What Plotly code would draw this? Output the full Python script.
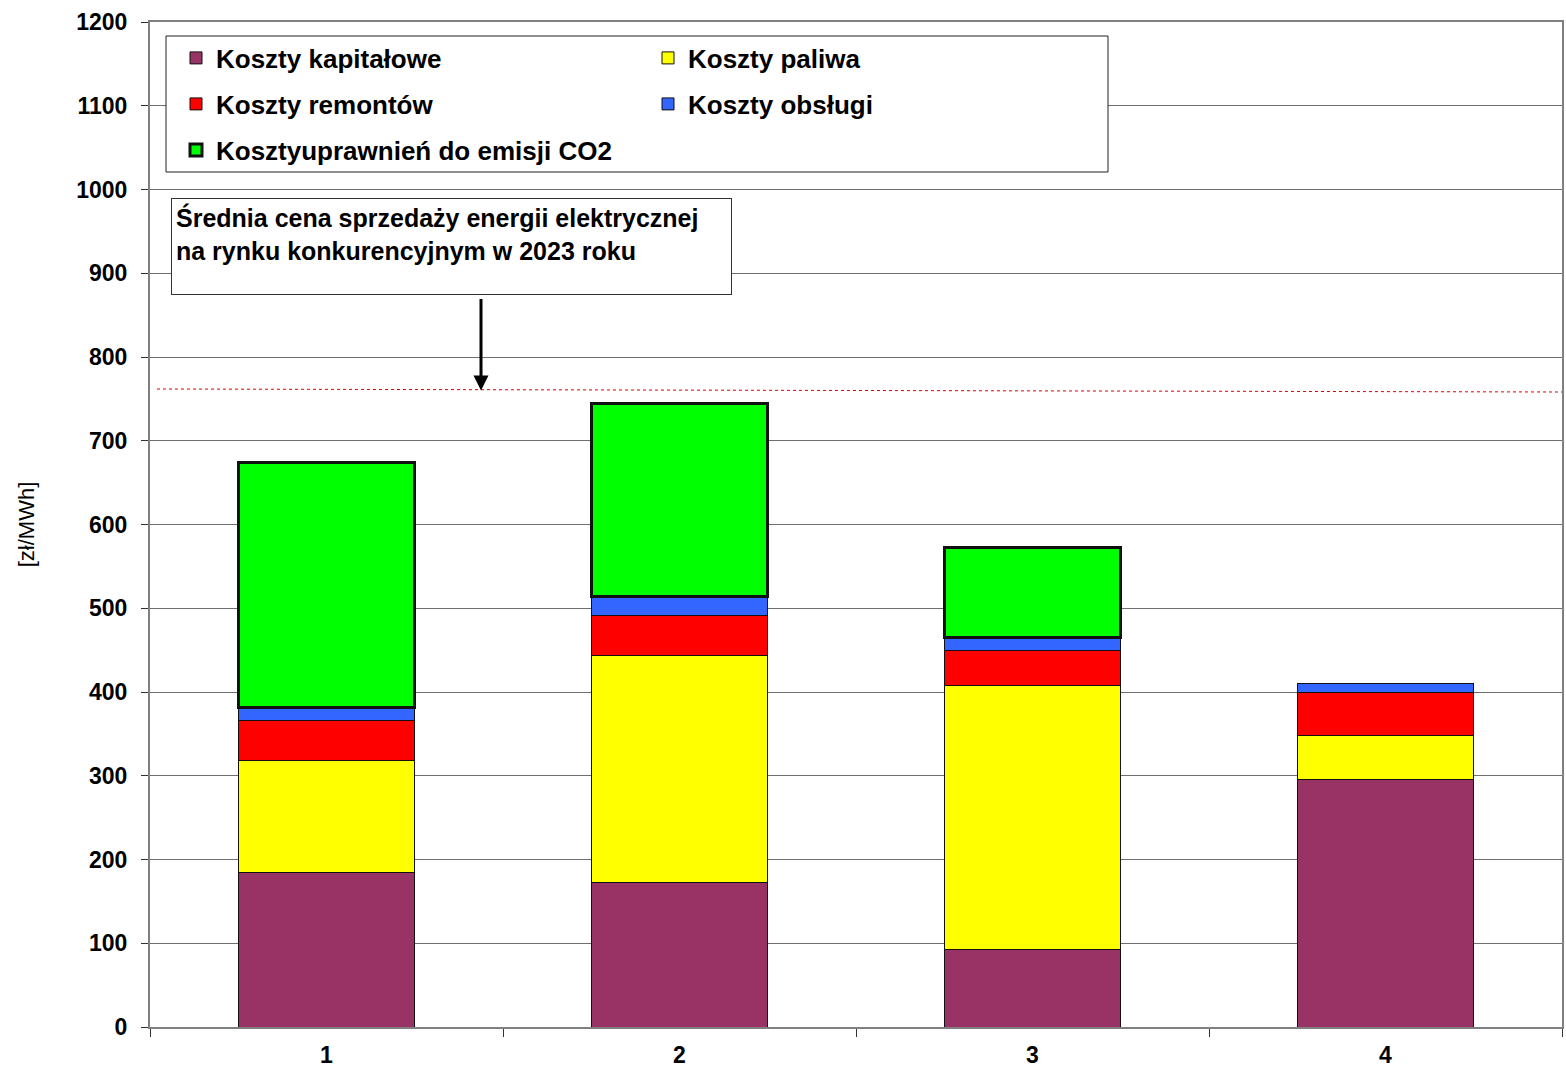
import plotly.graph_objects as go

categories = ["1", "2", "3", "4"]
koszty_kapitalowe = [184, 172, 93, 295]
koszty_paliwa = [134, 271, 315, 52.5]
koszty_remontow = [48, 48, 42, 52.5]
koszty_obslugi = [15, 23, 15.5, 9.6]
koszty_co2 = [293, 230.5, 107.5, None]
srednia_cena_start = 761.8
srednia_cena_end = 758.2

series = [
    ("Koszty kapitałowe", koszty_kapitalowe, "#993366", 1, "legend"),
    ("Koszty paliwa", koszty_paliwa, "#FFFF00", 1, "legend"),
    ("Koszty remontów", koszty_remontow, "#FF0000", 1, "legend2"),
    ("Koszty obsługi", koszty_obslugi, "#3366FF", 1, "legend2"),
    ("Kosztyuprawnień do emisji CO2", koszty_co2, "#00FF00", 3, "legend3"),
]

FONT = "Liberation Sans, Arial, sans-serif"

fig = go.Figure()
for name, vals, color, lw, leg in series:
    fig.add_trace(go.Bar(
        x=categories, y=vals, name=name,
        marker=dict(color=color, line=dict(color="#111111", width=lw)),
        legend=leg,
    ))

W, H = 1566, 1069
L, T = 150, 22
R = W - 1562
B = H - 1027
pw, ph = W - L - R, H - T - B

def px(xs):
    return (xs - L) / pw

def py(ys):
    return (H - B - ys) / ph

leg_font = dict(family=FONT, size=26, color="#000000", weight="bold")
common_leg = dict(orientation="h", xanchor="left", yanchor="middle",
                  bgcolor="rgba(0,0,0,0)", borderwidth=0, font=leg_font,
                  entrywidth=427, itemwidth=30, traceorder="normal")

fig.update_layout(
    width=W, height=H,
    margin=dict(l=L, r=R, t=T, b=B, autoexpand=False),
    paper_bgcolor="white", plot_bgcolor="white",
    barmode="stack", bargap=0.5,
    font=dict(family=FONT, color="#000000"),
    legend=dict(x=px(176), y=py(58), **common_leg),
    legend2=dict(x=px(176), y=py(104), **common_leg),
    legend3=dict(x=px(176), y=py(150), **common_leg),
    xaxis=dict(
        range=[-0.5, 3.5], tickson="boundaries", ticks="outside", ticklen=8,
        tickcolor="#333333", tickwidth=1, ticklabelstandoff=6,
        showline=True, linecolor="#808080", linewidth=2, mirror=True,
        showgrid=False, automargin=False,
        tickfont=dict(family=FONT, size=23, weight="bold", color="#000000"),
    ),
    yaxis=dict(
        range=[0, 1200], dtick=100, ticks="outside", ticklen=7,
        tickcolor="#333333", tickwidth=1, ticklabelstandoff=9,
        showline=True, linecolor="#808080", linewidth=2, mirror=True,
        showgrid=True, gridcolor="#6e6e6e", gridwidth=1,
        zeroline=False, automargin=False,
        tickfont=dict(family=FONT, size=23, weight="bold", color="#000000"),
        title=dict(text="[zł/MWh]", standoff=36,
                   font=dict(family=FONT, size=22, color="#000000")),
    ),
    showlegend=True,
)

# legend frame
fig.add_shape(type="rect", xref="paper", yref="paper",
              x0=px(166), x1=px(1108), y0=py(172), y1=py(36),
              fillcolor="white", line=dict(color="#222222", width=1), layer="above")

# average price line
fig.add_shape(type="line", xref="paper", yref="y",
              x0=px(157), x1=1.0, y0=srednia_cena_start, y1=srednia_cena_end,
              line=dict(color="#E00000", width=1, dash="dot"), layer="above")

# text box
fig.add_annotation(
    xref="paper", yref="paper", x=px(171), y=py(198),
    xanchor="left", yanchor="top", showarrow=False,
    text="Średnia cena sprzedaży energii elektrycznej<br>na rynku konkurencyjnym w 2023 roku",
    align="left", valign="top", width=551, height=87,
    bgcolor="white", bordercolor="#333333", borderwidth=1, borderpad=4,
    font=dict(family=FONT, size=25, weight="bold", color="#000000"),
)

# arrow
fig.add_annotation(
    xref="paper", yref="y", x=px(481), y=(srednia_cena_start + srednia_cena_end) / 2,
    ax=0, ay=-93, axref="pixel", ayref="pixel",
    text="", showarrow=True, arrowhead=2, arrowsize=1, arrowwidth=3,
    arrowcolor="#000000", standoff=0,
)

fig.write_html(
    "out.html",
    config={"displayModeBar": False},
    post_script="document.body.style.margin='0';document.body.style.overflow='hidden';",
)
